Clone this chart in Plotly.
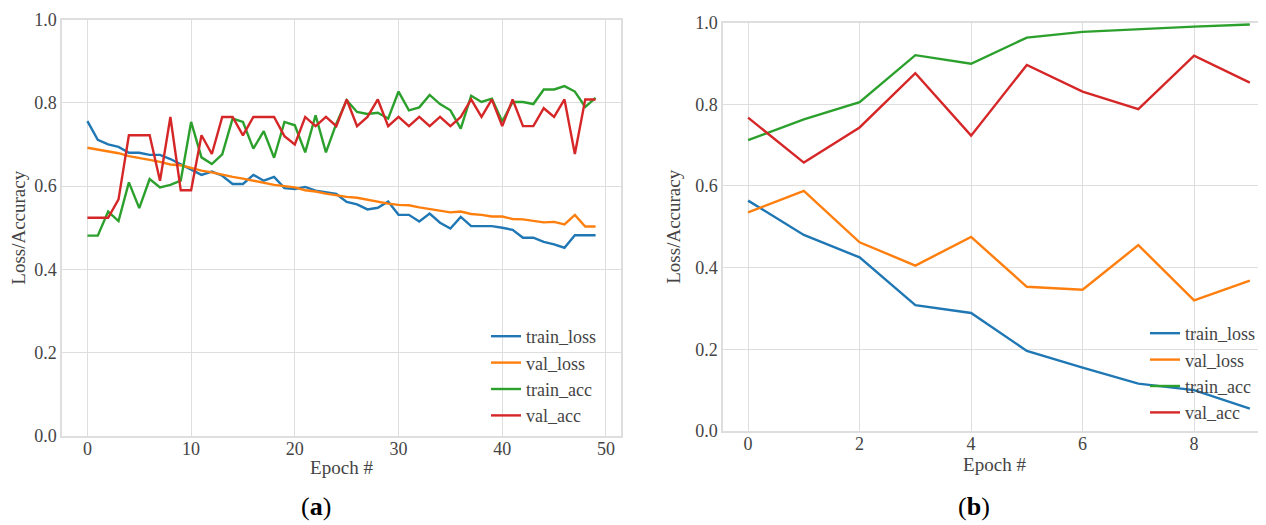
import plotly.graph_objects as go

# ---------------- data ----------------
epochs_a = list(range(50))
train_loss_a = [0.756, 0.711, 0.700, 0.694, 0.680, 0.680, 0.675, 0.675, 0.665, 0.653,
                0.641, 0.627, 0.635, 0.625, 0.605, 0.605, 0.627, 0.613, 0.622, 0.595,
                0.593, 0.598, 0.589, 0.585, 0.581, 0.562, 0.556, 0.544, 0.548, 0.563,
                0.531, 0.531, 0.515, 0.534, 0.512, 0.498, 0.526, 0.504, 0.504, 0.504,
                0.500, 0.495, 0.476, 0.476, 0.466, 0.460, 0.452, 0.482, 0.482, 0.482]
val_loss_a = [0.692, 0.688, 0.684, 0.679, 0.672, 0.668, 0.663, 0.658, 0.652, 0.650,
              0.644, 0.637, 0.633, 0.627, 0.622, 0.618, 0.613, 0.608, 0.603, 0.600,
              0.597, 0.590, 0.587, 0.582, 0.578, 0.574, 0.572, 0.567, 0.562, 0.558,
              0.555, 0.554, 0.549, 0.545, 0.541, 0.537, 0.539, 0.533, 0.531, 0.527,
              0.527, 0.521, 0.520, 0.517, 0.513, 0.514, 0.508, 0.531, 0.503, 0.503]
train_acc_a = [0.481, 0.481, 0.539, 0.516, 0.609, 0.547, 0.617, 0.597, 0.603, 0.613,
               0.754, 0.669, 0.653, 0.676, 0.762, 0.754, 0.690, 0.732, 0.668, 0.754,
               0.746, 0.681, 0.770, 0.681, 0.750, 0.806, 0.778, 0.773, 0.776, 0.762,
               0.827, 0.782, 0.789, 0.819, 0.797, 0.782, 0.738, 0.817, 0.802, 0.810,
               0.755, 0.802, 0.802, 0.797, 0.832, 0.832, 0.840, 0.827, 0.790, 0.812]
val_acc_a = [0.524, 0.524, 0.524, 0.568, 0.722, 0.722, 0.722, 0.613, 0.766, 0.590,
             0.590, 0.722, 0.677, 0.766, 0.766, 0.722, 0.766, 0.766, 0.766, 0.720,
             0.700, 0.766, 0.744, 0.766, 0.744, 0.808, 0.744, 0.766, 0.808, 0.744,
             0.766, 0.744, 0.766, 0.744, 0.766, 0.744, 0.766, 0.808, 0.766, 0.808,
             0.744, 0.808, 0.744, 0.744, 0.787, 0.766, 0.808, 0.677, 0.808, 0.808]

epochs_b = list(range(10))
train_loss_b = [0.564, 0.480, 0.425, 0.308, 0.289, 0.196, 0.155, 0.116, 0.100, 0.055]
val_loss_b = [0.535, 0.588, 0.462, 0.405, 0.475, 0.353, 0.346, 0.455, 0.320, 0.368]
train_acc_b = [0.712, 0.763, 0.805, 0.920, 0.899, 0.963, 0.977, 0.984, 0.990, 0.995]
val_acc_b = [0.767, 0.657, 0.743, 0.876, 0.723, 0.896, 0.831, 0.788, 0.919, 0.853]

series_names = ["train_loss", "val_loss", "train_acc", "val_acc"]
colors = ["#1f77b4", "#ff7f0e", "#2ca02c", "#d62728"]
y_ticks = [0.0, 0.2, 0.4, 0.6, 0.8, 1.0]
x_ticks_a = [0, 10, 20, 30, 40, 50]
x_ticks_b = [0, 2, 4, 6, 8]

# page body has an 8px margin, so the figure is drawn 8px smaller and offset
OFF = 8
W, H = 1266 - OFF, 525 - OFF
FONT = "Liberation Serif"
GRID = "#dedede"
TXT = "#444444"

fig = go.Figure()

for name, ys, c in zip(series_names, [train_loss_a, val_loss_a, train_acc_a, val_acc_a], colors):
    fig.add_trace(go.Scatter(x=epochs_a, y=ys, mode="lines", name=name,
                             line=dict(color=c, width=2.4), xaxis="x", yaxis="y",
                             legend="legend"))
for name, ys, c in zip(series_names, [train_loss_b, val_loss_b, train_acc_b, val_acc_b], colors):
    fig.add_trace(go.Scatter(x=epochs_b, y=ys, mode="lines", name=name,
                             line=dict(color=c, width=2.4), xaxis="x2", yaxis="y2",
                             legend="legend2"))

def px_x(p):
    """screen x pixel -> paper fraction"""
    return min(1.0, (p - OFF) / W)

def px_y(p):
    """screen y pixel -> paper fraction"""
    return 1 - (p - OFF) / H

axis_common = dict(showgrid=True, gridcolor=GRID, gridwidth=1.3, zeroline=False,
                   showline=True, linecolor=GRID, linewidth=1.5, automargin=False,
                   ticks="", tickfont=dict(family=FONT, size=18, color=TXT),
                   title_font=dict(family=FONT, size=19, color=TXT))

fig.update_layout(
    width=W, height=H,
    margin=dict(l=0, r=0, t=0, b=0),
    paper_bgcolor="white", plot_bgcolor="white",
    font=dict(family=FONT, color=TXT),
    xaxis=dict(domain=[px_x(62), px_x(621)], range=[-2.45, 51.45], tickvals=x_ticks_a,
               anchor="y", mirror=True, ticklabelstandoff=-4,
               title=dict(text="Epoch #", standoff=2), **axis_common),
    yaxis=dict(domain=[px_y(436), px_y(19.5)], range=[0, 1], tickvals=y_ticks, tickformat=".1f",
               anchor="x", mirror=True, title=dict(text="Loss/Accuracy", standoff=10), **axis_common),
    xaxis2=dict(domain=[px_x(723), 1.0], range=[-0.45, 9.29], tickvals=x_ticks_b,
                anchor="y2", mirror=True, ticklabelstandoff=-4,
                title=dict(text="Epoch #", standoff=2), **axis_common),
    yaxis2=dict(domain=[px_y(431), px_y(22.5)], range=[0, 1], tickvals=y_ticks, tickformat=".1f",
                anchor="x2", mirror=False, title=dict(text="Loss/Accuracy", standoff=10), **axis_common),
    legend=dict(x=px_x(486), y=px_y(318), xanchor="left", yanchor="top",
                bgcolor="rgba(0,0,0,0)", font=dict(family=FONT, size=18, color=TXT),
                tracegroupgap=0, itemwidth=30),
    legend2=dict(x=px_x(1145), y=px_y(315), xanchor="left", yanchor="top",
                 bgcolor="rgba(0,0,0,0)", font=dict(family=FONT, size=18, color=TXT),
                 tracegroupgap=0, itemwidth=30),
    showlegend=True,
)

fig.add_annotation(x=px_x(316), y=px_y(506), xref="paper", yref="paper",
                   xanchor="center", yanchor="middle",
                   text="(<b>a</b>)", showarrow=False,
                   font=dict(family=FONT, size=26, color="black"))
fig.add_annotation(x=px_x(974), y=px_y(506), xref="paper", yref="paper",
                   xanchor="center", yanchor="middle",
                   text="(<b>b</b>)", showarrow=False,
                   font=dict(family=FONT, size=26, color="black"))

fig.write_html("out.html")
